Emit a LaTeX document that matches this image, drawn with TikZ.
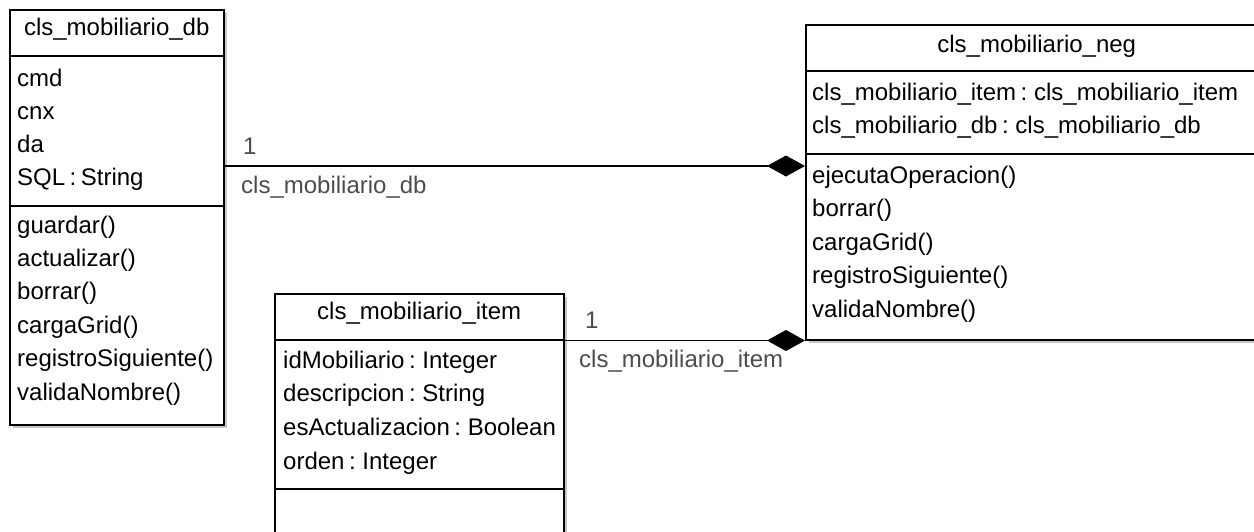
\documentclass[tikz,border=0pt]{standalone}
\usepackage{fontspec}
\setmainfont{Liberation Sans}
\usepackage{tikz}
\usetikzlibrary{positioning, arrows.meta, shadows}
\newcommand\umlfont{\fontsize{24}{28}\selectfont\spaceskip=4.5pt plus 1pt}
\tikzset{
  classbox/.style={draw=black, line width=1.5pt, fill=white, anchor=north west, inner sep=0pt,
    drop shadow={shadow xshift=3pt, shadow yshift=-3pt, fill=gray!45, opacity=1}},
  sep/.style={draw=black, line width=1.5pt},
  hdr/.style={anchor=base, inner sep=0pt, font=\umlfont},
  mtxt/.style={anchor=base west, inner sep=0pt, font=\umlfont},
  ltxt/.style={anchor=base west, inner sep=0pt, font=\umlfont, text=black!70},
  comp/.style={{Diamond[length=38pt, width=21pt]}-, line width=1.3pt, black},
}
\begin{document}
\begin{tikzpicture}[x=1pt, y=-1pt]
  \useasboundingbox (0,0) rectangle (1254,531);
  % classes
  \node[classbox, minimum width=214pt, minimum height=415pt] (db) at (9,9) {};
  \node[classbox, minimum width=462pt, minimum height=315pt] (neg) at (805,24) {};
  \node[classbox, minimum width=289pt, minimum height=267pt] (item) at (274,293) {};
  \draw[sep] (db.west |- 0,56) -- (db.east |- 0,56);
  \draw[sep] (db.west |- 0,206) -- (db.east |- 0,206);
  \draw[sep] (neg.west |- 0,71) -- (neg.east |- 0,71);
  \draw[sep] (neg.west |- 0,154) -- (neg.east |- 0,154);
  \draw[sep] (item.west |- 0,340) -- (item.east |- 0,340);
  \draw[sep] (item.west |- 0,489) -- (item.east |- 0,489);
  \node[hdr] (db-h) at (db.north |- 0,35) {cls\_mobiliario\_db};
  \node[hdr] (neg-h) at (neg.north |- 0,52) {cls\_mobiliario\_neg};
  \node[hdr] (item-h) at (item.north |- 0,319) {cls\_mobiliario\_item};
  \foreach \t [count=\i from 0] in {cmd,cnx,da,SQL : String} {
    \node[mtxt] (db-a\i) at (17,{86+33.2*\i}) {\t};
  }
  \foreach \t [count=\i from 0] in {guardar(),actualizar(),borrar(),cargaGrid(),registroSiguiente(),validaNombre()} {
    \node[mtxt] (db-m\i) at (17,{233+33.4*\i}) {\t};
  }
  \foreach \t [count=\i from 0] in {cls\_mobiliario\_item : cls\_mobiliario\_item,cls\_mobiliario\_db : cls\_mobiliario\_db} {
    \node[mtxt] (neg-a\i) at (812,{100+33.5*\i}) {\t};
  }
  \foreach \t [count=\i from 0] in {ejecutaOperacion(),borrar(),cargaGrid(),registroSiguiente(),validaNombre()} {
    \node[mtxt] (neg-m\i) at (812,{183+33.5*\i}) {\t};
  }
  \foreach \t [count=\i from 0] in {idMobiliario : Integer,descripcion : String,esActualizacion : Boolean,orden : Integer} {
    \node[mtxt] (item-a\i) at (283,{368+33.7*\i}) {\t};
  }
  % relations
  \coordinate (neg-db) at (805,166);
  \draw[comp] (neg-db) -- (neg-db -| db.east);
  \draw[comp] (neg.south west) -- (neg.south west -| item.east);
  \node[ltxt] (db-one) at (243,154) {1};
  \node[ltxt] (db-role) at (241,193) {cls\_mobiliario\_db};
  \node[ltxt] (item-one) at (585,328) {1};
  \node[ltxt] (item-role) at (579,367) {cls\_mobiliario\_item};
\end{tikzpicture}
\end{document}
